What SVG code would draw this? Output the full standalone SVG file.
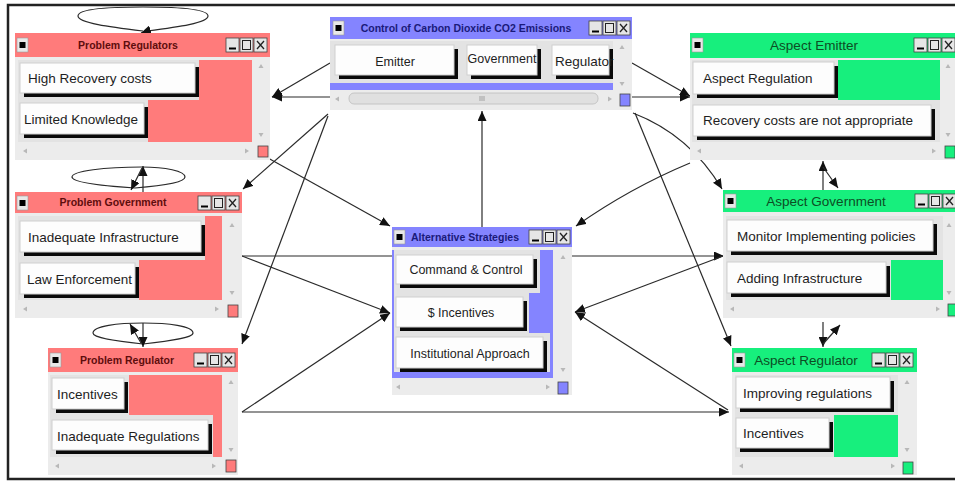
<svg xmlns="http://www.w3.org/2000/svg" xmlns:xlink="http://www.w3.org/1999/xlink" width="955" height="482" viewBox="0 0 955 482">
<style>
.win{fill:#ececec}
.pink{fill:#ff7b7b}
.green{fill:#17ef7d}
.blue{fill:#8484ff}
.row{fill:#e3e3e3}
.sh{fill:#0a0a0a}
.btn{fill:#fdfdfd;stroke:#cfcfcf;stroke-width:1}
.ctl{fill:#e6e6e6;stroke:#444;stroke-width:0.8}
.sq{stroke:#444;stroke-width:0.8}
.ttlp{font-family:"Liberation Sans",Arial,sans-serif;font-weight:bold;font-size:10.5px;fill:#5e0d0d;text-anchor:middle}
.ttlb{font-family:"Liberation Sans",Arial,sans-serif;font-weight:bold;font-size:10.5px;fill:#1a1a7a;text-anchor:middle}
.ttlg{font-family:"Liberation Sans",Arial,sans-serif;font-size:13.5px;fill:#0d4d24;text-anchor:middle}
.bt{font-family:"Liberation Sans",Arial,sans-serif;font-size:13.5px;fill:#1e1e1e}
.bc{font-family:"Liberation Sans",Arial,sans-serif;font-size:12.5px;fill:#1e1e1e;text-anchor:middle}
.e{fill:none;stroke:#2a2a2a;stroke-width:1.2}
.ea{fill:none;stroke:#2a2a2a;stroke-width:1.2;marker-end:url(#ah)}
</style>
<defs>
<marker id="ah" markerUnits="userSpaceOnUse" markerWidth="11" markerHeight="9" refX="10" refY="4.5" orient="auto">
<path d="M0,0 L10,4.5 L0,9 z" fill="#111"/>
</marker>
<g id="ctls">
<rect class="ctl" x="0" y="0" width="13" height="14"/>
<line x1="3" y1="10.5" x2="10" y2="10.5" stroke="#000" stroke-width="2"/>
<rect class="ctl" x="14" y="0" width="13" height="14"/>
<rect x="16.5" y="2.5" width="8" height="9" fill="none" stroke="#222" stroke-width="1"/>
<rect class="ctl" x="28" y="0" width="13" height="14"/>
<path d="M31,3 L38,11 M38,3 L31,11" stroke="#222" stroke-width="1.3"/>
</g>
<g id="ico">
<rect x="0" y="0" width="11" height="14" fill="#e8e8e8" stroke="#999" stroke-width="0.6"/>
<rect x="2.5" y="4" width="6" height="6" fill="#000"/>
</g>
<path id="up" d="M-2.5,2 L0,-2 L2.5,2 z" fill="#b8b8b8"/>
<path id="dn" d="M-2.5,-2 L0,2 L2.5,-2 z" fill="#b8b8b8"/>
<path id="lf" d="M2,-2.5 L-2,0 L2,2.5 z" fill="#b8b8b8"/>
<path id="rt" d="M-2,-2.5 L2,0 L-2,2.5 z" fill="#b8b8b8"/>
</defs>
<rect x="0" y="0" width="955" height="482" fill="#fff"/>
<rect x="8" y="5" width="955" height="474" fill="none" stroke="#222" stroke-width="2.5"/>

<g id="connectors">
<path class="e" d="M143,31 C110,27 78,23 78,16 C78,9 110,7 143,7 C176,7 208,9 208,16 C208,23 178,27 147,31"/>
<path class="ea" d="M150,30 L141,33"/>
<path class="e" d="M135,188 C105,186 72,183 72,177 C72,171 105,167 142,167 C165,167 185,171 185,177 C185,183 160,186 135,188"/>
<path class="ea" d="M143,192 L143,166"/>
<path class="ea" d="M142,168 L131,190"/>
<path class="e" d="M143,344 C115,341 93,338 93,333 C93,326 118,323 143,323 C168,323 193,326 193,333 C193,338 170,341 143,344"/>
<path class="ea" d="M143,323 L143,347"/>
<path class="ea" d="M141,343 L130,324"/>
<path class="ea" d="M823,190 L823,161"/>
<path class="ea" d="M823,167 L838,188"/>
<path class="ea" d="M823,322 L823,347"/>
<path class="ea" d="M823,344 L840,325"/>
<path class="ea" d="M330,63 L272,97"/>
<path class="ea" d="M330,97 L272,97"/>
<path class="ea" d="M632,63 L690,96"/>
<path class="ea" d="M632,97 L690,97"/>
<path class="ea" d="M328,114 L243,189"/>
<path class="ea" d="M328,116 L242,344"/>
<path class="ea" d="M268,158 L390,226"/>
<path class="ea" d="M482,227 L482,111"/>
<path class="ea" d="M690,163 Q630,188 576,226"/>
<path class="ea" d="M633,113 Q690,135 722,189"/>
<path class="ea" d="M635,113 L731,346"/>
<path class="ea" d="M242,256 L724,256"/>
<path class="ea" d="M242,256 L390,313"/>
<path class="ea" d="M242,412 L390,313"/>
<path class="ea" d="M242,412 L729,412"/>
<path class="ea" d="M723,256 L575,312"/>
<path class="ea" d="M728,410 L575,312"/>
</g>

<g id="problem-regulators">
<rect class="win" x="15" y="33" width="255" height="127"/>
<rect class="pink" x="15" y="33" width="255" height="24"/>
<use href="#ico" x="17" y="38"/>
<text class="ttlp" x="128" y="49">Problem Regulators</text>
<use href="#ctls" x="226" y="38"/>
<rect class="pink" x="18" y="60" width="234" height="82"/>
<rect class="row" x="18" y="60" width="181" height="40"/>
<rect class="row" x="18" y="100" width="130" height="42"/>
<rect class="sh" x="24" y="67" width="175" height="30"/>
<rect class="btn" x="20" y="63" width="175" height="30"/>
<text class="bt" x="28" y="83" font-size="14">High Recovery costs</text>
<rect class="sh" x="24" y="107" width="124" height="31"/>
<rect class="btn" x="20" y="103" width="124" height="31"/>
<text class="bt" x="24" y="124">Limited Knowledge</text>
<use href="#up" x="261" y="66"/><use href="#dn" x="261" y="135"/>
<use href="#lf" x="25" y="151"/><use href="#rt" x="247" y="151"/>
<rect class="pink sq" x="258" y="146" width="10" height="11"/>
</g>

<g id="control">
<rect class="win" x="330" y="17" width="302" height="93"/>
<rect class="blue" x="330" y="17" width="302" height="22"/>
<use href="#ico" x="333" y="21"/>
<text class="ttlb" x="466" y="32">Control of Carbon Dioxide CO2 Emissions</text>
<use href="#ctls" x="589" y="21"/>
<rect class="blue" x="330" y="41" width="283" height="49"/>
<rect class="row" x="330" y="41" width="283" height="42"/>
<rect class="sh" x="339" y="49" width="119" height="30"/>
<rect class="btn" x="335" y="45" width="119" height="30"/>
<text class="bc" x="395" y="66">Emitter</text>
<rect class="sh" x="471" y="49" width="70" height="30"/>
<rect class="btn" x="467" y="45" width="70" height="30"/>
<text class="bc" x="502" y="63">Government</text>
<rect class="sh" x="556" y="49" width="57" height="30"/>
<rect class="btn" x="552" y="45" width="57" height="30"/>
<text class="bt" x="555" y="66" font-size="12.5">Regulator</text>
<use href="#up" x="622" y="47"/><use href="#dn" x="622" y="84"/>
<use href="#lf" x="337" y="99"/><use href="#rt" x="610" y="99"/>
<rect x="349" y="93" width="249" height="11" rx="5" fill="#e0e0e0" stroke="#bdbdbd" stroke-width="0.8"/>
<path d="M480,96 V101 M482,96 V101 M484,96 V101" stroke="#888" stroke-width="0.7"/>
<rect class="blue sq" x="620" y="94" width="10" height="12"/>
</g>

<g id="aspect-emitter">
<rect class="win" x="690" y="33" width="265" height="127"/>
<rect class="green" x="690" y="33" width="265" height="25"/>
<use href="#ico" x="692" y="38"/>
<text class="ttlg" x="814" y="50" font-size="14">Aspect Emitter</text>
<use href="#ctls" x="914" y="38"/>
<rect class="green" x="692" y="60" width="248" height="82"/>
<rect class="row" x="692" y="60" width="146" height="40"/>
<rect class="row" x="692" y="100" width="248" height="42"/>
<rect class="sh" x="697" y="66" width="141" height="32"/>
<rect class="btn" x="693" y="62" width="141" height="32"/>
<text class="bt" x="703" y="83" font-size="14">Aspect Regulation</text>
<rect class="sh" x="697" y="109" width="238" height="31"/>
<rect class="btn" x="693" y="105" width="238" height="31"/>
<text class="bt" x="703" y="125" font-size="13.8">Recovery costs are not appropriate</text>
<use href="#up" x="948" y="66"/><use href="#dn" x="948" y="135"/>
<use href="#lf" x="699" y="151"/><use href="#rt" x="934" y="151"/>
<rect class="green sq" x="945" y="146" width="10" height="12"/>
</g>

<g id="problem-government">
<rect class="win" x="15" y="192" width="227" height="126"/>
<rect class="pink" x="15" y="192" width="227" height="21"/>
<use href="#ico" x="17" y="196"/>
<text class="ttlp" x="113" y="206">Problem Government</text>
<use href="#ctls" x="198" y="196"/>
<rect class="pink" x="18" y="216" width="204" height="84"/>
<rect class="row" x="18" y="216" width="187" height="44"/>
<rect class="row" x="18" y="260" width="121" height="40"/>
<rect class="sh" x="24" y="225" width="181" height="31"/>
<rect class="btn" x="20" y="221" width="181" height="31"/>
<text class="bt" x="28" y="242">Inadequate Infrastructure</text>
<rect class="sh" x="24" y="267" width="115" height="31"/>
<rect class="btn" x="20" y="263" width="115" height="31"/>
<text class="bt" x="27" y="284">Law Enforcement</text>
<use href="#up" x="232" y="225"/><use href="#dn" x="232" y="293"/>
<use href="#lf" x="25" y="309"/><use href="#rt" x="217" y="309"/>
<rect class="pink sq" x="228" y="305" width="10" height="12"/>
</g>

<g id="problem-regulator">
<rect class="win" x="48" y="348" width="190" height="127"/>
<rect class="pink" x="48" y="348" width="190" height="24"/>
<use href="#ico" x="50" y="353"/>
<text class="ttlp" x="127" y="364">Problem Regulator</text>
<use href="#ctls" x="194" y="353"/>
<rect class="pink" x="50" y="375" width="172" height="82"/>
<rect class="row" x="50" y="375" width="79" height="40"/>
<rect class="row" x="50" y="415" width="163" height="42"/>
<rect class="sh" x="56" y="382" width="72" height="31"/>
<rect class="btn" x="52" y="378" width="72" height="31"/>
<text class="bt" x="57" y="399" font-size="13">Incentives</text>
<rect class="sh" x="56" y="424" width="156" height="30"/>
<rect class="btn" x="52" y="420" width="156" height="30"/>
<text class="bt" x="57" y="441">Inadequate Regulations</text>
<use href="#up" x="231" y="382"/><use href="#dn" x="231" y="450"/>
<use href="#lf" x="57" y="466"/><use href="#rt" x="214" y="466"/>
<rect class="pink sq" x="226" y="460" width="10" height="12"/>
</g>

<g id="alternative-strategies">
<rect class="win" x="392" y="227" width="180" height="168"/>
<rect class="blue" x="392" y="227" width="180" height="20"/>
<use href="#ico" x="394" y="230"/>
<text class="ttlb" x="465" y="241" font-size="10.3">Alternative Strategies</text>
<use href="#ctls" x="529" y="230"/>
<rect class="blue" x="392" y="250" width="161" height="128"/>
<rect class="row" x="394" y="250" width="146" height="43"/>
<rect class="row" x="394" y="293" width="135" height="40"/>
<rect class="row" x="394" y="333" width="156" height="39"/>
<rect class="sh" x="400" y="259" width="137" height="29"/>
<rect class="btn" x="396" y="255" width="137" height="29"/>
<text class="bc" x="466" y="274">Command &amp; Control</text>
<rect class="sh" x="400" y="301" width="127" height="30"/>
<rect class="btn" x="396" y="297" width="127" height="30"/>
<text class="bc" x="461" y="317">$ Incentives</text>
<rect class="sh" x="400" y="341" width="147" height="31"/>
<rect class="btn" x="396" y="337" width="147" height="31"/>
<text class="bc" x="470" y="358">Institutional Approach</text>
<use href="#up" x="563" y="257"/><use href="#dn" x="563" y="370"/>
<use href="#lf" x="398" y="387"/><use href="#rt" x="548" y="387"/>
<rect class="blue sq" x="558" y="382" width="10" height="12"/>
</g>

<g id="aspect-government">
<rect class="win" x="723" y="190" width="232" height="128"/>
<rect class="green" x="723" y="190" width="232" height="22"/>
<use href="#ico" x="725" y="194"/>
<text class="ttlg" x="826" y="206">Aspect Government</text>
<use href="#ctls" x="915" y="194"/>
<rect class="green" x="726" y="216" width="217" height="84"/>
<rect class="row" x="726" y="216" width="217" height="44"/>
<rect class="row" x="726" y="260" width="165" height="40"/>
<rect class="sh" x="731" y="224" width="206" height="31"/>
<rect class="btn" x="727" y="220" width="206" height="31"/>
<text class="bt" x="737" y="241" font-size="12.8">Monitor Implementing policies</text>
<rect class="sh" x="731" y="266" width="159" height="31"/>
<rect class="btn" x="727" y="262" width="159" height="31"/>
<text class="bt" x="737" y="283" font-size="12.8">Adding Infrastructure</text>
<use href="#up" x="949" y="225"/><use href="#dn" x="949" y="293"/>
<use href="#lf" x="732" y="309"/><use href="#rt" x="938" y="309"/>
<rect class="green sq" x="948" y="304" width="10" height="12"/>
</g>

<g id="aspect-regulator">
<rect class="win" x="732" y="348" width="185" height="127"/>
<rect class="green" x="732" y="348" width="185" height="24"/>
<use href="#ico" x="734" y="353"/>
<text class="ttlg" x="806" y="365">Aspect Regulator</text>
<use href="#ctls" x="872" y="353"/>
<rect class="green" x="735" y="375" width="163" height="82"/>
<rect class="row" x="735" y="375" width="163" height="40"/>
<rect class="row" x="735" y="415" width="99" height="42"/>
<rect class="sh" x="740" y="381" width="154" height="31"/>
<rect class="btn" x="736" y="377" width="154" height="31"/>
<text class="bt" x="743" y="398" font-size="12.8">Improving regulations</text>
<rect class="sh" x="740" y="422" width="93" height="30"/>
<rect class="btn" x="736" y="418" width="93" height="30"/>
<text class="bt" x="743" y="438" font-size="12.8">Incentives</text>
<use href="#up" x="907" y="382"/><use href="#dn" x="907" y="450"/>
<use href="#lf" x="741" y="466"/><use href="#rt" x="893" y="466"/>
<rect class="green sq" x="903" y="462" width="10" height="12"/>
</g>
</svg>
